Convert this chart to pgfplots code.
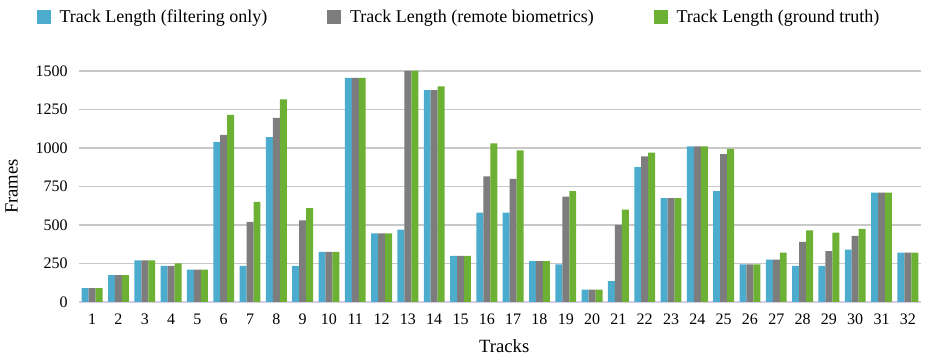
\documentclass[border=0pt]{standalone}
\usepackage{pgfplots}
\pgfplotsset{compat=1.18}
\usepackage{fontspec}
\setmainfont{Liberation Serif}
\definecolor{cblue}{RGB}{75,172,206}
\definecolor{cgray}{RGB}{125,125,125}
\definecolor{cgreen}{RGB}{108,176,52}
\definecolor{cgrid}{RGB}{200,200,200}
\definecolor{cbase}{RGB}{215,205,230}
\begin{document}
\begin{tikzpicture}
\path[use as bounding box] (0,0) rectangle (694.5pt,267.75pt);
\begin{axis}[
  at={(59.25pt,41.25pt)}, anchor=south west,
  scale only axis, width=631.5pt, height=173.25pt,
  ybar=0pt, bar width=0.265,
  xmin=0.5, xmax=32.5, ymin=0, ymax=1500,
  xtick={1,...,32}, ytick={0,250,500,750,1000,1250,1500},
  /pgf/number format/assume math mode=true,
  /pgf/number format/set thousands separator={},
  tick style={draw=none},
  ymajorgrids, grid style={cgrid, line width=0.9pt},
  axis y line*=left, y axis line style={draw=none},
  axis x line*=bottom, x axis line style={cbase, line width=0.8pt},
  tick label style={font=\fontsize{12}{14}\selectfont},
  xticklabel style={yshift=-1pt},
  yticklabel style={xshift=-5pt},
  xlabel={Tracks}, ylabel={Frames},
  label style={font=\fontsize{14}{16}\selectfont},
  xlabel style={at={(axis description cs:0.505,-0.19)}, anchor=center},
  ylabel style={at={(axis description cs:-0.067,0.5)}, anchor=south, rotate=0},
  legend columns=3,
  legend style={draw=none, fill=none, font=\fontsize{13.5}{15}\selectfont,
    at={(axis description cs:-0.055,1.287)}, anchor=north west,
    /tikz/every even column/.append style={column sep=43pt}},
  legend image code/.code={\fill[#1] (0pt,-5pt) rectangle (10.5pt,5.5pt);
    \path (0pt,0pt) -- (15pt,0pt);},
  clip=true,
]
\addplot[fill=cblue, draw=none] coordinates {
(1,90)(2,175)(3,270)(4,235)(5,210)(6,1040)(7,235)(8,1070)(9,235)(10,325)
(11,1455)(12,445)(13,470)(14,1375)(15,300)(16,580)(17,580)(18,265)(19,245)(20,80)
(21,135)(22,875)(23,675)(24,1010)(25,720)(26,245)(27,275)(28,235)(29,235)(30,340)
(31,710)(32,320)};
\addplot[fill=cgray, draw=none] coordinates {
(1,90)(2,175)(3,270)(4,235)(5,210)(6,1085)(7,520)(8,1195)(9,530)(10,325)
(11,1455)(12,445)(13,1500)(14,1375)(15,300)(16,815)(17,800)(18,265)(19,685)(20,80)
(21,500)(22,945)(23,675)(24,1010)(25,960)(26,245)(27,275)(28,390)(29,330)(30,430)
(31,710)(32,320)};
\addplot[fill=cgreen, draw=none] coordinates {
(1,90)(2,175)(3,270)(4,250)(5,210)(6,1215)(7,650)(8,1315)(9,610)(10,325)
(11,1455)(12,445)(13,1500)(14,1400)(15,300)(16,1030)(17,985)(18,265)(19,720)(20,80)
(21,600)(22,970)(23,675)(24,1010)(25,995)(26,245)(27,320)(28,465)(29,450)(30,475)
(31,710)(32,320)};
\legend{Track Length (filtering only),Track Length (remote biometrics),Track Length (ground truth)}
\end{axis}
\end{tikzpicture}
\end{document}
